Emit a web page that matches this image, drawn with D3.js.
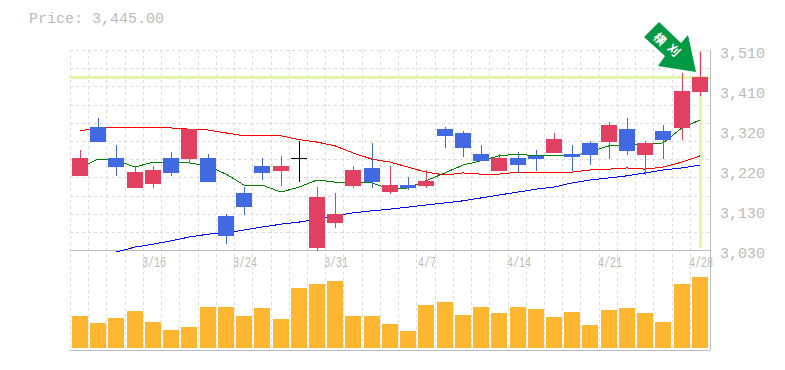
<!DOCTYPE html>
<html><head><meta charset="utf-8">
<style>html,body{margin:0;padding:0;background:#fff}svg{display:block}
text{font-family:"Liberation Mono",monospace;fill:#bbb}</style>
<script src="https://cdn.jsdelivr.net/npm/d3@7"></script></head><body>
<svg id="c" width="785" height="370"></svg>
<script>
const priceLabel = "Price: 3,445.00";
const currentPrice = 3445;
const open  = [3208,3325,3251,3179,3188,3251,3248,3251,3112,3167,3232,3220,3251,3035,3095,3184,3227,3169,3186,3184,3320,3311,3260,3220,3251,3256,3263,3260,3287,3289,3320,3258,3316,3323,3409];
const close = [3251,3289,3229,3217,3222,3215,3320,3193,3064,3133,3215,3232,3251,3157,3116,3222,3193,3186,3179,3196,3304,3275,3244,3251,3234,3248,3296,3253,3258,3330,3268,3287,3294,3412,3445];
const high  = [3270,3347,3282,3229,3232,3265,3320,3260,3116,3181,3251,3256,3292,3181,3167,3232,3287,3232,3205,3222,3325,3316,3282,3260,3265,3270,3311,3282,3292,3337,3347,3292,3330,3455,3505];
const low   = [3208,3289,3208,3179,3179,3208,3239,3193,3044,3114,3198,3184,3193,3028,3083,3179,3179,3164,3174,3179,3275,3253,3244,3220,3215,3220,3263,3220,3234,3248,3258,3210,3248,3294,3400];
const maShort = [3227,3248,3246,3229,3241,3239,3239,3232,3212,3186,3186,3169,3181,3198,3193,3193,3191,3176,3179,3196,3215,3234,3244,3256,3260,3256,3256,3256,3265,3280,3282,3284,3287,3323,3342];
const maMid   = [3316,3323,3325,3325,3325,3323,3320,3318,3311,3304,3304,3304,3295,3289,3280,3263,3248,3241,3229,3217,3210,3215,3212,3212,3217,3217,3217,3217,3222,3224,3227,3224,3229,3241,3256];
const maLong  = [null,null,3025,3037,3044,3052,3061,3068,3071,3078,3085,3092,3097,3104,3112,3119,3124,3128,3133,3138,3143,3148,3155,3162,3169,3176,3181,3191,3198,3203,3208,3215,3222,3227,3234];
const volume  = [32,25,30,37,26,18,21,41,41,32,40,29,60,64,67,32,32,24,17,43,46,33,41,35,41,39,31,36,23,38,40,35,26,64,71];
const priceTicks = [3510,3410,3320,3220,3130,3030];
const tickValues = [3510,3414,3318,3222,3126,3030];
const dateLabels = ["3/16","3/24","3/31","4/7","4/14","4/21","4/28"];
const dateIdx = [4,9,14,19,24,29,34];
const noteText = ["横","刈"];

const svg = d3.select("#c");
const idx = d3.range(open.length);
const x = d3.scaleBand().domain(idx).range([71,709.05]);
const y = d3.scaleLinear().domain([3510,3030]).range([50,250]);
const v = d3.scaleLinear().domain([0,100]).range([348,248]);
const bx = i => Math.round(x(i))+1;

// grid
const g = svg.append("g").attr("shape-rendering","crispEdges").attr("stroke","#ddd").attr("stroke-dasharray","3,3");
d3.range(0,35).forEach(k=>{
  const gx = Math.round(71+k*x.step())-.5;
  g.append("line").attr("x1",gx).attr("x2",gx).attr("y1",50).attr("y2",350);
});
d3.range(0,11).forEach(k=>{
  const gy = Math.round(50+k*18.2)+.5;
  g.append("line").attr("x1",70).attr("x2",710).attr("y1",gy).attr("y2",gy);
});
// axes frame
const f = svg.append("g").attr("shape-rendering","crispEdges").attr("stroke","#bbb");
[[70,250.5,710,250.5],[70,350.5,710,350.5],[710.5,50,710.5,350]].forEach(a=>
  f.append("line").attr("x1",a[0]).attr("y1",a[1]).attr("x2",a[2]).attr("y2",a[3]));

// highlight
const hl = "#e4f4a8";
svg.append("rect").attr("x",70).attr("width",640).attr("y",Math.round(y(currentPrice))-1).attr("height",3).attr("fill",hl);
svg.append("rect").attr("x",bx(34)+7).attr("width",3).attr("y",50).attr("height",198).attr("fill",hl);

// volume
svg.append("g").selectAll("rect").data(volume).join("rect")
  .attr("x",(d,i)=>bx(i)).attr("width",16).attr("y",d=>v(d)).attr("height",d=>348-v(d)).attr("fill","#ffb732");

// moving averages
const ln = d3.line().defined(d=>d!==null).x((d,i)=>bx(i)+8).y(d=>y(d));
[[maLong,"#0000ff"],[maMid,"#ff0000"],[maShort,"#008000"]].forEach(s=>
  svg.append("path").attr("d",ln(s[0])).attr("fill","none").attr("stroke",s[1]).attr("stroke-width",1).attr("shape-rendering","crispEdges"));

// candles
const col = i => close[i]===open[i] ? "#000" : close[i]>open[i] ? "#e24060" : "#4169e1";
const c = svg.append("g").attr("shape-rendering","crispEdges");
idx.forEach(i=>{
  c.append("rect").attr("x",bx(i)+8).attr("width",1).attr("y",y(high[i])).attr("height",y(low[i])-y(high[i])).attr("fill",col(i));
  const t=Math.min(y(open[i]),y(close[i])), h=Math.max(1,Math.abs(y(open[i])-y(close[i])));
  c.append("rect").attr("x",bx(i)).attr("width",16).attr("y",t).attr("height",h).attr("fill",col(i));
});

// labels
svg.append("text").attr("x",29).attr("y",23).attr("font-size",15).text(priceLabel);
priceTicks.forEach((p,i)=>svg.append("text").attr("x",720).attr("y",y(tickValues[i])+8).attr("font-size",15).text(d3.format(",")(p)));
dateLabels.forEach((d,i)=>svg.append("text").attr("transform",`translate(${bx(dateIdx[i])+9},267) scale(.72,1)`).attr("text-anchor","middle").attr("font-size",14).text(d));

// arrow
const ag = svg.append("g");
ag.append("path").attr("d","M659 22L644 37L665 56L658 66L696 72L688 35L681 43Z").attr("fill","#009944");
noteText.forEach((t,i)=>ag.append("text").attr("transform",`translate(${660+i*14},${39+i*11}) rotate(45)`).attr("text-anchor","middle").attr("dy",".38em")
  .attr("font-size",12).attr("font-weight","bold").style("font-family","'Noto Sans CJK JP'").style("fill","#fff").text(t));
</script></body></html>
